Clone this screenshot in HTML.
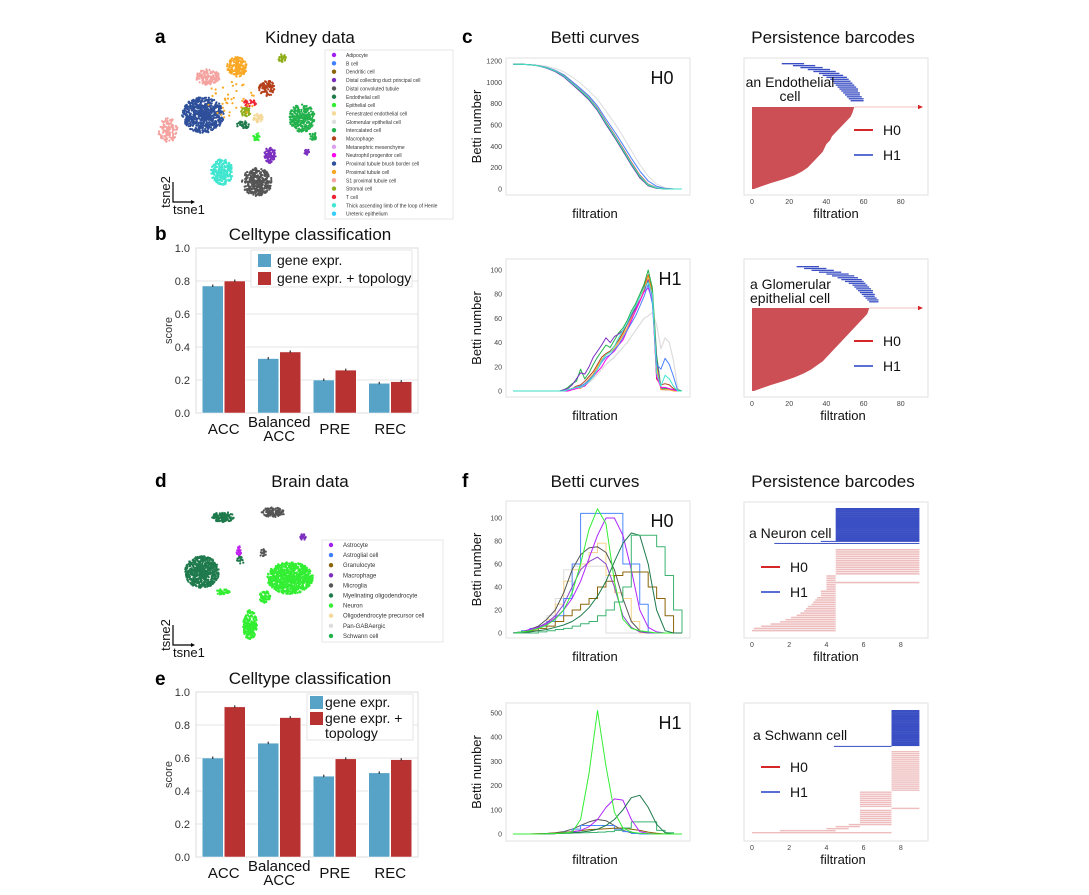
<!DOCTYPE html>
<html><head><meta charset="utf-8"><style>
html,body{margin:0;padding:0;background:#fff;}
svg{display:block;font-family:"Liberation Sans",sans-serif;}
</style></head><body>
<svg id="fig" width="1089" height="895" viewBox="0 0 1089 895">
<rect x="0" y="0" width="1089" height="895" fill="#fff"/>
<g font-weight="bold" font-size="19" fill="#000">
<text x="155" y="43">a</text>
<text x="155" y="240">b</text>
<text x="462" y="43">c</text>
<text x="155" y="487">d</text>
<text x="155" y="685">e</text>
<text x="462" y="487">f</text>
</g>
<g font-size="17" text-anchor="middle" fill="#111">
<text x="310" y="43">Kidney data</text>
<text x="310" y="240">Celltype classification</text>
<text x="595" y="43">Betti curves</text>
<text x="833" y="43">Persistence barcodes</text>
<text x="310" y="487">Brain data</text>
<text x="310" y="684">Celltype classification</text>
<text x="595" y="487">Betti curves</text>
<text x="833" y="487">Persistence barcodes</text>
</g>
<g id="root"></g>
</svg>
<script>
// ---------- DATA ----------
const kClusterColor = ['#2e4f9a','#f4a3a0','#f4a3a0','#f9a825','#8fae1b','#b5401b','#22b14c','#22b14c','#40e6cf','#555555','#7b2fbf','#7b2fbf','#8fae1b','#f5d99a','#1f7a4c','#33ee33','#ee2233','#f9a825'];
const kClusterX = [203,168,208,237,282,267,302,313,222,257,270,307,246,258,243,257,250,232];
const kClusterY = [115,130,77,67,58,88,118,136,172,182,155,152,112,118,125,137,103,100];
const kClusterRx = [21,10,12,10,4,8,13,4,11,15,6,3,5,5,6,4,6,25];
const kClusterRy = [18,12,8,10,4,8,14,4,13,14,8,3,5,5,4,4,4,22];
const kClusterN = [700,130,150,170,30,100,280,25,240,360,80,15,40,40,40,25,25,40];
const kLegendNames = ['Adipocyte','B cell','Dendritic cell','Distal collecting duct principal cell','Distal convoluted tubule','Endothelial cell','Epithelial cell','Fenestrated endothelial cell','Glomerular epithelial cell','Intercalated cell','Macrophage','Metanephric mesenchyme','Neutrophil progenitor cell','Proximal tubule brush border cell','Proximal tubule cell','S1 proximal tubule cell','Stromal cell','T cell','Thick ascending limb of the loop of Henle','Ureteric epithelium'];
const kLegendColors = ['#a020f0','#3f7fff','#8b6508','#7b2fbf','#555555','#1f7a4c','#33ee33','#f5d99a','#dddddd','#22b14c','#b5401b','#dda0ee','#ff00ee','#2e4f9a','#f9a825','#f4a3a0','#8fae1b','#ee2233','#40e6cf','#33ccff'];
const bClusterColor = ['#1f7a4c','#1f7a4c','#555555','#555555','#7b2fbf','#c020f0','#33ee33','#33ee33','#33ee33','#33ee33','#1f7a4c'];
const bClusterX = [202,223,273,263,303,239,290,250,265,223,241];
const bClusterY = [572,517,512,553,537,552,578,625,597,592,560];
const bClusterRx = [17,11,12,3,3,3,23,7,6,7,4];
const bClusterRy = [16,5,5,5,3,6,16,15,6,3,4];
const bClusterN = [600,120,120,20,20,30,800,220,60,40,20];
const bLegendNames = ['Astrocyte','Astroglial cell','Granulocyte','Macrophage','Microglia','Myelinating oligodendrocyte','Neuron','Oligodendrocyte precursor cell','Pan-GABAergic','Schwann cell'];
const bLegendColors = ['#a020f0','#3f7fff','#8b6508','#7b2fbf','#555555','#1f7a4c','#33ee33','#f5d99a','#dddddd','#22b14c'];

const metrics = ['ACC','Balanced\nACC','PRE','REC'];
const kidneyGene = [0.77,0.33,0.20,0.18];
const kidneyTopo = [0.80,0.37,0.26,0.19];
const brainGene = [0.60,0.69,0.49,0.51];
const brainTopo = [0.91,0.845,0.595,0.59];
const scoreTicks = [0,0.2,0.4,0.6,0.8,1.0];

const kH0Ticks = [0,200,400,600,800,1000,1200];
const kH0Green = [1170,1170,1165,1155,1135,1105,1060,990,920,845,745,615,495,365,235,115,35,8,1,0,0];
const kH0Red = [1170,1170,1165,1156,1137,1108,1065,997,928,855,757,630,510,382,252,130,45,12,2,0,0];
const kH0Blue = [1170,1170,1166,1157,1140,1112,1072,1008,942,872,778,655,540,415,290,170,75,25,6,1,0];
const kH0Purple = [1170,1170,1165,1154,1132,1100,1052,982,910,835,735,605,485,355,225,105,30,6,1,0,0];
const kH0Grey = [1170,1170,1168,1162,1150,1130,1100,1050,990,920,840,730,620,495,360,230,120,45,12,2,0];
const kH0Cyan = [1170,1170,1165,1155,1136,1106,1062,993,924,850,750,622,502,372,242,122,40,10,1,0,0];
const kH1Ticks = [0,20,40,60,80,100];
const kH1Grey = [0,0,0,0,0,0,0,0,0,0,0,0,0,0,1,2,3,5,7,10,14,18,22,25,28,32,36,40,45,50,55,60,62,65,55,35,44,40,25,2,0];
const kH1Green = [0,0,0,0,0,0,0,0,0,0,0,0,1,3,6,8,18,10,15,22,28,33,38,36,42,48,52,58,66,72,80,88,100,85,30,3,2,2,1,1,0];
const kH1Purple = [0,0,0,0,0,0,0,0,0,0,0,0,1,2,5,10,15,14,20,28,33,38,44,40,45,47,50,55,62,68,75,82,92,78,25,2,1,1,1,0,0];
const kH1Orange = [0,0,0,0,0,0,0,0,0,0,0,0,0,1,2,3,2,6,10,14,20,26,30,32,35,40,46,52,60,66,74,84,95,80,20,1,1,1,0,0,0];
const kH1Blue = [0,0,0,0,0,0,0,0,0,0,0,0,0,1,2,3,4,6,9,13,18,24,28,30,34,38,44,50,56,62,70,78,88,72,22,18,27,22,12,0,0];
const kH1Red = [0,0,0,0,0,0,0,0,0,0,0,0,0,1,2,4,5,8,12,16,22,28,31,33,37,42,48,55,62,70,78,86,96,82,10,5,6,5,2,0,0];
const kH1Magenta = [0,0,0,0,0,0,0,0,0,0,0,0,0,0,1,2,3,4,8,12,16,20,26,30,33,38,42,50,58,66,74,82,85,75,12,3,3,2,1,0,0];
const kH1Cyan = [0,0,0,0,0,0,0,0,0,0,0,0,0,1,2,3,3,5,8,12,18,25,30,32,37,44,50,56,64,70,78,85,90,80,15,4,13,10,4,0,0];

const bH0Ticks = [0,20,40,60,80,100];
const bH0LightGrey = [0,1,3,6,15,30,55,58,58,58,58,0,0,0,0,0,0,0,0,0,0];
const bH0Beige = [0,1,3,6,12,25,45,55,60,70,78,50,35,30,10,0,0,0,0,0,0];
const bH0Blue = [0,2,4,6,10,15,30,60,104,104,104,104,104,60,60,25,0,0,0,0,0];
const bH0Brown = [0,1,2,4,6,10,15,20,25,30,40,45,50,53,53,53,40,30,15,0,0];
const bH0DarkGrey = [0,1,3,6,12,20,35,55,68,74,75,70,55,30,10,2,0,0,0,0,0];
const bH0Purple2 = [0,1,3,5,9,15,25,40,55,62,66,60,40,15,5,1,0,0,0,0,0];
const bH0Purple = [0,1,3,5,8,13,20,30,45,65,85,100,100,85,55,20,5,1,0,0,0];
const bH0Green = [0,1,2,4,7,12,20,35,60,90,108,95,45,12,4,2,1,0,0,0,0];
const bH0DarkGreen = [0,0,1,2,3,5,7,10,15,22,32,45,62,78,87,85,60,20,2,0,0];
const bH0MedGreen = [0,0,0,1,2,3,4,6,8,10,15,20,27,40,85,85,85,75,50,20,0];
const bH1Ticks = [0,100,200,300,400,500];
const bH1Grey = [0,0,0,1,2,5,10,20,35,50,60,55,35,15,5,1,0,0,0,0,0];
const bH1Blue = [0,0,0,0,1,3,8,20,35,35,35,35,20,10,2,0,0,0,0,0,0];
const bH1Brown = [0,0,0,1,2,4,6,10,14,18,20,22,24,25,20,15,8,3,0,0,0];
const bH1MedGreen = [0,0,0,0,1,2,3,4,5,6,8,10,15,25,50,50,50,15,5,0,0];
const bH1Purple = [0,0,0,0,1,2,4,8,15,30,60,110,145,140,60,10,2,0,0,0,0];
const bH1DarkGreen = [0,0,0,0,1,2,3,5,8,12,20,35,60,100,150,160,110,40,5,0,0];
const bH1Green = [0,0,0,0,1,2,4,8,60,250,510,280,90,25,8,3,1,0,0,0,0];

const kBarTicks = [0,20,40,60,80];
const bBarTicks = [0,2,4,6,8];
const endoH0Deaths = [55,54,53,51,49,47,45,43,42,40,39,38,36,34,32,30,27,23,17,10,1];
const endoH1Births = [16,22,26,30,33,36,38,40,42,43,44,45,46,47,48,49,50,51,52,53];
const endoH1Deaths = [28,34,38,42,45,47,49,51,52,53,54,55,56,57,57,58,58,59,60,60];
const glomH0Deaths = [63,62,60,58,56,54,52,50,48,46,44,42,40,38,35,32,28,23,17,10,1];
const glomH1Births = [24,28,32,36,40,43,46,48,50,52,54,55,56,57,58,59,60,61,62,63];
const glomH1Deaths = [36,40,44,48,52,55,57,59,60,61,62,63,64,65,65,66,66,67,68,68];
const neuronH0Births = [4.5,4.5,4.5,4.5,4.5,4.5,4.5,4.5,4.5,4.5,4.5,4.5,4.0,4.0,4.0,4.0,4.0,4.0,4.0,3.7,3.7,3.7,3.5,3.4,3.3,3.2,3.0,2.9,2.8,2.6,2.4,2.1,1.8,1.5,1.0,0.5,0.1,0];
const neuronH0Deaths = [9,9,9,9,9,9,9,9,9,9,9,9,4.5,4.5,4.5,9,4.5,4.5,4.5,4.5,4.5,4.5,4.5,4.5,4.5,4.5,4.5,4.5,4.5,4.5,4.5,4.5,4.5,4.5,4.5,4.5,4.5,4.5];
const neuronH1Births = [4.5,4.5,4.5,4.5,4.5,4.5,4.5,4.5,4.5,4.5,4.5,4.5,4.5,4.5,4.5,4.5,3.7,1.2];
const neuronH1Deaths = [9,9,9,9,9,9,9,9,9,9,9,9,9,9,9,9,9,9];
const schwannH0Births = [7.5,7.5,7.5,7.5,7.5,7.5,7.5,7.5,7.5,7.5,7.5,7.5,7.5,7.5,7.5,7.5,7.5,7.5,7.5,7.5,5.8,5.8,5.8,5.8,5.8,5.8,5.8,5.8,7.5,5.8,5.8,5.8,5.8,5.8,5.8,5.8,5.2,4.5,4.0,1.5,0];
const schwannH0Deaths = [9,9,9,9,9,9,9,9,9,9,9,9,9,9,9,9,9,9,9,9,7.5,7.5,7.5,7.5,7.5,7.5,7.5,7.5,9,7.5,7.5,7.5,7.5,7.5,7.5,7.5,7.5,5.8,5.2,4.5,7.5];
const schwannH1Births = [7.5,7.5,7.5,7.5,7.5,7.5,7.5,7.5,7.5,7.5,7.5,7.5,7.5,7.5,7.5,7.5,7.5,4.4];
const schwannH1Deaths = [9,9,9,9,9,9,9,9,9,9,9,9,9,9,9,9,9,7.5];

// ---------- HELPERS ----------
const NS='http://www.w3.org/2000/svg';
const root=document.getElementById('root');
function mk(tag,attrs,parent){const e=document.createElementNS(NS,tag);for(const k in attrs)e.setAttribute(k,attrs[k]);(parent||root).appendChild(e);return e;}
function txt(s,x,y,size,anchor,parent,extra){const t=mk('text',Object.assign({x:x,y:y,'font-size':size,'text-anchor':anchor||'start',fill:'#111'},extra||{}),parent);t.textContent=s;return t;}
let seed=12345;
function rnd(){seed=(seed*1103515245+12345)%2147483648;return seed/2147483648;}

// ---------- SCATTER ----------
function scatter(colors,xs,ys,rxs,rys,ns,name){
  const g=mk('g',{});
  
  
  for(let c=0;c<xs.length;c++){
    for(let i=0;i<ns[c];i++){
      const a=rnd()*Math.PI*2, r=Math.pow(rnd(),0.6);
      const d=mk('circle',{cx:(xs[c]+Math.cos(a)*r*rxs[c]).toFixed(1),cy:(ys[c]+Math.sin(a)*r*rys[c]).toFixed(1),r:1.1,fill:colors[c]},g);
      
      
    }
  }
}
function legendBox(x,y,w,h,names,colors,y0,dy,fs,name){
  const g=mk('g',{});
  
  
  const r=mk('rect',{x:x,y:y,width:w,height:h,fill:'#fff',stroke:'#e2e2e2','stroke-width':0.8},g);
  
  
  names.forEach((n,i)=>{
    const c=mk('circle',{cx:x+9,cy:y0+i*dy,r:2.2,fill:colors[i]},g);
    
    
    const t=txt(n,x+21,y0+i*dy+2,fs,'start',g,{fill:'#333'});
    
    
  });
}
function tsneAxes(x,y,name){
  const g=mk('g',{});
  
  
  const p=mk('path',{d:`M${x} ${y-20}L${x} ${y}L${x+20} ${y}`,stroke:'#000','stroke-width':1.2,fill:'none'},g);
  
  
  const a=mk('path',{d:`M${x+22} ${y}l-4 -2l0 4z`,fill:'#000'},g);
  
  
  const t1=txt('tsne1',x,y+12,13,'start',g);
  
  
  const t2=txt('tsne2',0,0,13,'middle',g,{transform:`translate(${x-3},${y-10}) rotate(-90)`});
  
  
}
scatter(kClusterColor,kClusterX,kClusterY,kClusterRx,kClusterRy,kClusterN,'kidney-tsne-scatter');
legendBox(325,50,128,169,kLegendNames,kLegendColors,55,8.35,5,'kidney-celltype-legend');
tsneAxes(173,202,'kidney-tsne-axes');
scatter(bClusterColor,bClusterX,bClusterY,bClusterRx,bClusterRy,bClusterN,'brain-tsne-scatter');
legendBox(322,540,121,102,bLegendNames,bLegendColors,545,10.1,6,'brain-celltype-legend');
tsneAxes(173,645,'brain-tsne-axes');

// ---------- BAR CHARTS ----------
function barChart(top,bottom,gene,topo,legendCfg,name){
  const g=mk('g',{});
  
  
  const L=196,R=418;
  const y=v=>bottom-(bottom-top)*v;
  scoreTicks.forEach(t=>{
    const l=mk('line',{x1:L,x2:R,y1:y(t),y2:y(t),stroke:'#e6e6e6','stroke-width':1},g);
    
    
    const tl=txt(t.toFixed(1),190,y(t)+4,11,'end',g,{fill:'#333'});
    
    
  });
  const fr=mk('rect',{x:L,y:top,width:R-L,height:bottom-top,fill:'none',stroke:'#dcdcdc','stroke-width':1},g);
  
  
  const yl=txt('score',0,0,11,'middle',g,{transform:`translate(172,${(top+bottom)/2}) rotate(-90)`,fill:'#333'});
  
  
  const pitch=(R-L)/metrics.length;
  metrics.forEach((m,i)=>{
    const cx=L+pitch*(i+0.5);
    [[gene,'#57a3c7',-1],[topo,'#b83232',0]].forEach(([arr,col,off])=>{
      const bx=cx+off*22;
      const b=mk('rect',{x:bx+0.5,y:y(arr[i]),width:21,height:bottom-y(arr[i]),fill:col,stroke:'#fff','stroke-width':0.5},g);
      
      
      const e=mk('line',{x1:bx+11,x2:bx+11,y1:y(arr[i])-1.5,y2:y(arr[i])+1,stroke:'#333','stroke-width':1.2},g);
      
      
    });
    const lines=m.split('\n');
    lines.forEach((s,k)=>{
      const t=txt(s,cx,(lines.length>1? bottom+14+k*14 : bottom+21),15,'middle',g);
      
      
    });
  });
  const lg=mk('g',{},g);
  
  
  const c=legendCfg;
  const lr=mk('rect',{x:c.x,y:c.y,width:c.w,height:c.h,fill:'#fff',stroke:'#e0e0e0','stroke-width':0.8},lg);
  
  
  c.items.forEach(it=>{
    const s=mk('rect',{x:c.sx,y:it.y-6,width:13,height:13,fill:it.col},lg);
    
    
    it.lines.forEach((ln,k)=>{
      const t=txt(ln,c.tx,it.y+5+k*15,14,'start',lg);
      
      
    });
  });
}
barChart(248,413,kidneyGene,kidneyTopo,{x:251,y:250,w:161,h:37,sx:258,tx:277,items:[{y:260,col:'#57a3c7',lines:['gene expr.']},{y:278,col:'#b83232',lines:['gene expr. + topology']}]},'kidney-classification-chart');
barChart(692,857,brainGene,brainTopo,{x:307,y:694,w:106,h:46,sx:310,tx:325,items:[{y:702,col:'#57a3c7',lines:['gene expr.']},{y:718,col:'#b83232',lines:['gene expr. +','topology']}]},'brain-classification-chart');

// ---------- BETTI CURVES ----------
function bettiChart(box,yPix0,yPixTop,yTopVal,ticks,series,label,name){
  const g=mk('g',{});
  
  
  const fr=mk('rect',{x:box[0],y:box[1],width:box[2]-box[0],height:box[3]-box[1],fill:'#fff',stroke:'#e0e0e0','stroke-width':1},g);
  
  
  const X0=513,X1=682;
  const y=v=>yPix0-(yPix0-yPixTop)*v/yTopVal;
  ticks.forEach(t=>{
    const tl=txt(String(t),502,y(t)+2.5,7,'end',g,{fill:'#444'});
    
    
  });
  series.forEach(s=>{
    const n=s.v.length;const xs=i=>X0+(X1-X0)*i/(n-1);
    let d='';
    s.v.forEach((v,i)=>{
      if(s.step){ if(i===0)d+=`M${xs(0)} ${y(v)}`; else d+=`L${xs(i)} ${y(s.v[i-1])}L${xs(i)} ${y(v)}`; }
      else d+=(i?'L':'M')+xs(i).toFixed(1)+' '+y(v).toFixed(1);
    });
    const p=mk('path',{d:d,fill:'none',stroke:s.c,'stroke-width':s.w||1,'stroke-linejoin':'round'},g);
    
    
  });
  const yl=txt('Betti number',0,0,13,'middle',g,{transform:`translate(481,${(box[1]+box[3])/2}) rotate(-90)`});
  
  
  const xl=txt('filtration',595,box[3]+23,13,'middle',g);
  
  
  const hl=txt(label,label==='H0'?662:670,box[1]+26,18,'middle',g);
  
  
}
bettiChart([506,58,690,195],189,61,1200,kH0Ticks,[
 {v:kH0Grey,c:'#dddddd'},{v:kH0Blue,c:'#4a80ff'},{v:kH0Red,c:'#e03030'},{v:kH0Purple,c:'#7b2fbf'},{v:kH0Green,c:'#22b14c'},{v:kH0Cyan,c:'#40e6cf'}],'H0','kidney-betti-h0');
bettiChart([506,259,690,397],391,270,100,kH1Ticks,[
 {v:kH1Grey,c:'#dddddd',w:1.2},{v:kH1Red,c:'#b5401b'},{v:kH1Green,c:'#22b14c'},{v:kH1Purple,c:'#7b2fbf'},{v:kH1Orange,c:'#f9a825'},{v:kH1Magenta,c:'#ff00ee'},{v:kH1Blue,c:'#4a80ff'},{v:kH1Cyan,c:'#40e6cf'}],'H1','kidney-betti-h1');
bettiChart([506,501,690,638],633,518,100,bH0Ticks,[
 {v:bH0LightGrey,c:'#dddddd',step:1},{v:bH0Beige,c:'#f5d38a',step:1},{v:bH0Blue,c:'#4a88ff',step:1},{v:bH0Brown,c:'#8b6508',step:1},{v:bH0DarkGrey,c:'#555555'},{v:bH0Purple2,c:'#8844cc'},{v:bH0Purple,c:'#b026ff'},{v:bH0Green,c:'#33ee33'},{v:bH0DarkGreen,c:'#1f7a4c'},{v:bH0MedGreen,c:'#3cb371',step:1}],'H0','brain-betti-h0');
bettiChart([506,703,690,841],834,713,500,bH1Ticks,[
 {v:bH1Grey,c:'#555555'},{v:bH1Blue,c:'#4a88ff',step:1},{v:bH1Brown,c:'#8b6508'},{v:bH1MedGreen,c:'#3cb371',step:1},{v:bH1Purple,c:'#b026ff'},{v:bH1DarkGreen,c:'#1f7a4c'},{v:bH1Green,c:'#33ee33'}],'H1','brain-betti-h1');

// ---------- BARCODES ----------
function barcode(box,pxPerUnit,ticks,h0b,h0d,h0y,h1b,h1d,h1y,redCol,pale,cellLines,legY,legX,arrowY,name){
  const g=mk('g',{});
  
  
  const fr=mk('rect',{x:box[0],y:box[1],width:box[2]-box[0],height:box[3]-box[1],fill:'#fff',stroke:'#e0e0e0','stroke-width':1},g);
  
  
  const x=v=>752+v*pxPerUnit;
  ticks.forEach(t=>{
    const tl=txt(String(t),x(t),box[3]+9,7,'middle',g,{fill:'#444'});
    
    
  });
  const rh=(h0y[1]-h0y[0])/h0d.length;
  if(!pale){
    // smooth filled shape through the sorted death values
    let d=`M752 ${h0y[0]}`;
    h0d.forEach((v,i)=>{const yy=h0y[0]+(i===0?0:(i===h0d.length-1?h0y[1]-h0y[0]:(i+0.5)*rh));d+=`L${x(v).toFixed(1)} ${yy.toFixed(1)}`;});
    d+=`L752 ${h0y[1]}Z`;
    const p=mk('path',{d:d,fill:redCol,stroke:'none'},g);
    
    
  } else {
    h0d.forEach((dd,i)=>{
      const b=h0b?h0b[i]:0;
      const r=mk('rect',{x:x(b),y:h0y[0]+i*rh,width:Math.max(0.5,x(dd)-x(b)),height:rh-0.6,fill:redCol,opacity:0.75},g);
      
      
    });
  }
  if(arrowY){
    const l=mk('line',{x1:x(h0d[0]),x2:919,y1:arrowY,y2:arrowY,stroke:'#f0c0c0','stroke-width':1},g);
    
    
    const a=mk('path',{d:`M923 ${arrowY}l-5 -2.2v4.4z`,fill:'#d62728'},g);
    
    
  }
  const bh=(h1y[1]-h1y[0])/h1d.length;
  h1d.forEach((dd,i)=>{
    const thin=pale&&h1b[i]!==h1b[0];
    const r=mk('rect',{x:x(h1b[i]),y:h1y[0]+i*bh,width:Math.max(0.5,x(dd)-x(h1b[i])),height:pale?(thin?1:bh+0.2):Math.max(0.8,bh*0.7),fill:'#3b4fc4'},g);
    
    
  });
  cellLines.forEach(s=>{
    const t=txt(s.t,s.x,s.y,14,s.a||'start',g);
    
    
  });
  [['H0','#d62728',legY[0]],['H1','#5a6fd6',legY[1]]].forEach(([lab,col,ly])=>{
    const l=mk('line',{x1:legX,x2:legX+19,y1:ly,y2:ly,stroke:col,'stroke-width':2},g);
    
    
    const t=txt(lab,legX+29,ly+5,14,'start',g);
    
    
  });
  const xl=txt('filtration',(box[0]+box[2])/2+(name.indexOf('glom')>=0||name.indexOf('schwann')>=0?7:0),box[3]+23,13,'middle',g);
  
  
}
barcode([744,58,928,195],1.86,kBarTicks,null,endoH0Deaths,[107,189],endoH1Births,endoH1Deaths,[63,102],'#cc4f55',false,
 [{t:'an Endothelial',x:790,y:87,a:'middle'},{t:'cell',x:790,y:101,a:'middle'}],[130,155],854,107,'endothelial-barcode');
barcode([744,259,928,397],1.86,kBarTicks,null,glomH0Deaths,[308,391],glomH1Births,glomH1Deaths,[266,303],'#cc4f55',false,
 [{t:'a Glomerular',x:750,y:289},{t:'epithelial cell',x:750,y:303}],[341,366],854,308,'glomerular-barcode');
barcode([744,502,928,638],18.6,bBarTicks,neuronH0Births,neuronH0Deaths,[549,632],neuronH1Births,neuronH1Deaths,[508,545],'#e8a8aa',true,
 [{t:'a Neuron cell',x:749,y:538}],[567,592],761,0,'neuron-barcode');
barcode([744,703,928,841],18.6,bBarTicks,schwannH0Births,schwannH0Deaths,[751,834],schwannH1Births,schwannH1Deaths,[710,748],'#e8a8aa',true,
 [{t:'a Schwann cell',x:753,y:740}],[767,792],761,0,'schwann-barcode');
</script>
</body></html>
